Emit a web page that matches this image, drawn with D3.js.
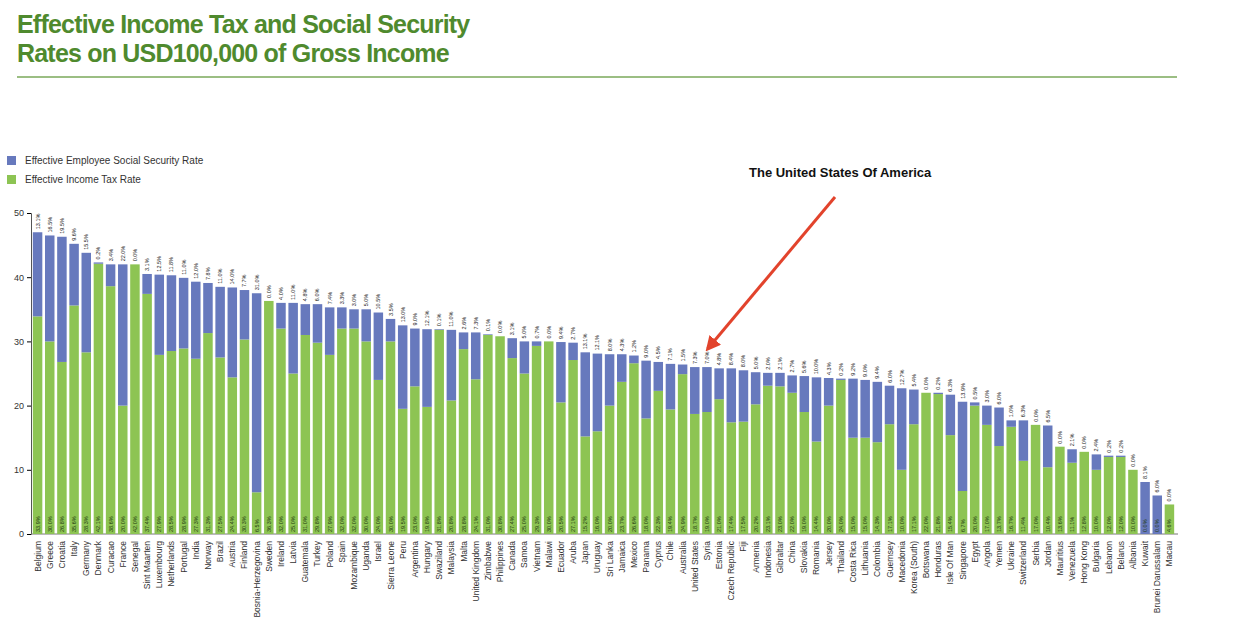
<!DOCTYPE html>
<html><head><meta charset="utf-8">
<script src="https://cdn.jsdelivr.net/npm/d3@7"></script>
<style>body{margin:0;background:#fff;font-family:"Liberation Sans",Arial,sans-serif}</style>
</head><body>
<script>
var countries = ["Belgium","Greece","Croatia","Italy","Germany","Denmark","Curacao","France","Senegal","Sint Maarten","Luxembourg","Netherlands","Portugal","India","Norway","Brazil","Austria","Finland","Bosnia-Herzegovina","Sweden","Ireland","Latvia","Guatemala","Turkey","Poland","Spain","Mozambique","Uganda","Israel","Sierra Leone","Peru","Argentina","Hungary","Swaziland","Malaysia","Malta","United Kingdom","Zimbabwe","Philippines","Canada","Samoa","Vietnam","Malawi","Ecuador","Aruba","Japan","Uruguay","Sri Lanka","Jamaica","Mexico","Panama","Cyprus","Chile","Australia","United States","Syria","Estonia","Czech Republic","Fiji","Armenia","Indonesia","Gibraltar","China","Slovakia","Romania","Jersey","Thailand","Costa Rica","Lithuania","Colombia","Guernsey","Macedonia","Korea (South)","Botswana","Honduras","Isle Of Man","Singapore","Egypt","Angola","Yemen","Ukraine","Switzerland","Serbia","Jordan","Mauritius","Venezuela","Hong Kong","Bulgaria","Lebanon","Belarus","Albania","Kuwait","Brunei Darussalam","Macau"];
var incomeTax = [33.9,30.0,26.8,35.6,28.3,42.1,38.6,20.0,42.0,37.4,27.9,28.5,28.9,27.3,31.3,27.5,24.4,30.3,6.5,36.3,32.0,25.0,31.0,29.8,27.9,32.0,32.0,30.0,24.0,30.0,19.5,23.0,19.8,31.8,20.8,28.8,24.1,31.0,30.8,27.4,25.0,29.3,30.0,20.5,27.1,15.2,16.0,20.0,23.7,26.6,18.0,22.3,19.4,24.9,18.7,19.0,21.0,17.4,17.5,20.2,23.1,23.0,22.0,19.0,14.4,20.0,24.0,15.0,15.0,14.3,17.1,10.0,17.1,22.0,21.8,15.4,6.7,20.0,17.0,13.7,16.7,11.4,17.0,10.4,13.6,11.1,12.8,10.0,12.0,12.0,10.0,0.0,0.0,4.6];
var socialSec = [13.1,16.5,19.5,9.6,15.5,0.2,3.4,22.0,0.0,3.1,12.5,11.8,11.0,12.0,7.8,11.0,14.0,7.7,31.0,0.0,4.0,11.0,4.8,6.0,7.4,3.3,3.0,5.0,10.5,3.5,13.0,9.0,12.1,0.1,11.0,2.6,7.3,0.1,0.0,3.1,5.0,0.7,0.0,9.4,2.7,13.1,12.1,8.0,4.3,1.2,9.0,4.5,7.1,1.5,7.3,7.0,4.8,8.4,8.0,5.0,2.0,2.1,2.7,5.6,10.0,4.3,0.2,9.2,9.0,9.4,6.0,12.7,5.4,0.0,0.2,6.3,13.9,0.5,3.0,6.0,1.0,6.3,0.0,6.5,0.0,2.1,0.0,2.4,0.2,0.2,0.0,8.1,6.0,0.0];
var yTicks = [0,10,20,30,40,50];
var blue = "#6779bd", green = "#8dc453", titleGreen = "#4f8a2e";

var svg = d3.select("body").append("svg").attr("width",1252).attr("height",644);

svg.append("text").attr("x",17).attr("y",33).attr("fill",titleGreen)
  .attr("font-size",25).attr("font-weight","bold").attr("letter-spacing",-0.8)
  .text("Effective Income Tax and Social Security");
svg.append("text").attr("x",17).attr("y",62).attr("fill",titleGreen)
  .attr("font-size",25).attr("font-weight","bold").attr("letter-spacing",-0.8)
  .text("Rates on USD100,000 of Gross Income");
svg.append("line").attr("x1",17).attr("x2",1177).attr("y1",77).attr("y2",77)
  .attr("stroke","#7aa85a").attr("stroke-width",1.5);

// legend
[["Effective Employee Social Security Rate",blue,160],["Effective Income Tax Rate",green,179]].forEach(function(l){
  svg.append("rect").attr("x",7).attr("y",l[2]-4).attr("width",9).attr("height",9).attr("fill",l[1]);
  svg.append("text").attr("x",25).attr("y",l[2]+4).attr("font-size",10).attr("fill","#333").text(l[0]);
});

var x = d3.scaleBand().domain(countries).range([31,1176]).paddingInner(0.22).paddingOuter(0.15);
var y = d3.scaleLinear().domain([0,50]).range([534,213]);

var yAxis = d3.axisLeft(y).tickValues(yTicks).tickSize(4);
var ga = svg.append("g").attr("transform","translate(31,0)").call(yAxis);
ga.selectAll("text").attr("font-size",9).attr("fill","#333");
ga.select(".domain").attr("stroke","#555");
svg.append("line").attr("x1",31).attr("x2",1178).attr("y1",y(0)).attr("y2",y(0)).attr("stroke","#777");

var g = svg.selectAll("g.bar").data(countries).enter().append("g").attr("class","bar")
  .attr("transform",function(d){return "translate("+x(d)+",0)";});
var bw = x.bandwidth();
g.append("rect").attr("width",bw).attr("y",function(d,i){return y(incomeTax[i]);})
  .attr("height",function(d,i){return y(0)-y(incomeTax[i]);}).attr("fill",green);
g.append("rect").attr("width",bw).attr("y",function(d,i){return y(incomeTax[i]+socialSec[i]);})
  .attr("height",function(d,i){return y(incomeTax[i])-y(incomeTax[i]+socialSec[i]);}).attr("fill",blue);
// bottom labels inside
g.append("text").attr("transform","translate("+(bw/2+2)+","+(y(0)-2)+") rotate(-90)")
  .attr("font-size",5.5).attr("fill","#1f3a10").text(function(d,i){return incomeTax[i].toFixed(1)+"%";});
// top labels
g.append("text").attr("transform",function(d,i){return "translate("+(bw/2+2)+","+(y(incomeTax[i]+socialSec[i])-3)+") rotate(-90)";})
  .attr("font-size",5.5).attr("fill","#222").text(function(d,i){return socialSec[i].toFixed(1)+"%";});
// country names
g.append("text").attr("transform","translate("+(bw/2+3)+","+(y(0)+7)+") rotate(-90)")
  .attr("text-anchor","end").attr("font-size",8.5).attr("fill","#333").text(function(d){return d;});

// annotation
svg.append("text").attr("x",749).attr("y",177).attr("font-size",13).attr("font-weight","bold").attr("fill","#111")
  .text("The United States Of America");
svg.append("defs").append("marker").attr("id","ah").attr("viewBox","0 0 10 10").attr("refX",8).attr("refY",5)
  .attr("markerWidth",5).attr("markerHeight",5).attr("orient","auto")
  .append("path").attr("d","M0,0L10,5L0,10z").attr("fill","#e2432c");
svg.append("line").attr("x1",835).attr("y1",197).attr("x2",x("United States")+bw+8).attr("y2",y(26)-18)
  .attr("stroke","#e2432c").attr("stroke-width",3).attr("marker-end","url(#ah)");
</script>
</body></html>
